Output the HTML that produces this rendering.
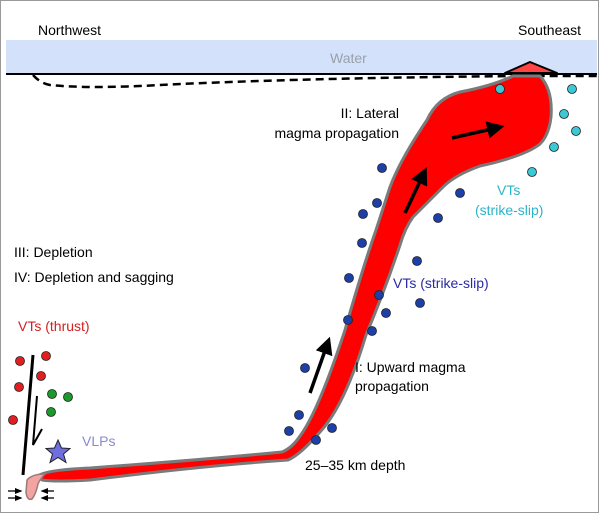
<!DOCTYPE html>
<html><head><meta charset="utf-8"><style>
html,body{margin:0;padding:0;background:#fff}
svg{display:block}
text{font-family:"Liberation Sans",sans-serif;font-size:14px}
</style></head><body>
<svg width="600" height="514" viewBox="0 0 600 514" xmlns="http://www.w3.org/2000/svg">
<defs>
<marker id="ah" viewBox="0 0 10 10" refX="5" refY="5" markerWidth="5" markerHeight="5" orient="auto"><path d="M0,0 L10,5 L0,10 z" fill="#000"/></marker>
<marker id="sa" viewBox="0 0 10 10" refX="8" refY="5" markerWidth="6" markerHeight="6" orient="auto"><path d="M0,1 L10,5 L0,9 z" fill="#000"/></marker>
</defs>
<rect x="0.5" y="0.5" width="598" height="512" fill="#fff" stroke="#999"/>
<rect x="6" y="40" width="591" height="33" fill="#d3e2fa"/>
<line x1="6" y1="74" x2="597" y2="74" stroke="#000" stroke-width="2"/>
<path d="M33,75 Q40,83 50,85 Q90,89 160,85 Q300,78 520,76 L597,76" fill="none" stroke="#000" stroke-width="2.5" stroke-dasharray="8,5"/>
<text x="38" y="35">Northwest</text>
<text x="518" y="35">Southeast</text>
<text x="330" y="63" fill="#9aa0aa">Water</text>
<!-- magma -->
<path d="M38,476 Q45,470 90,468 Q200,460 282,452 Q292,448 300,436 Q318,412 345,330 Q362,270 376,230 L390,187 Q400,160 427,120 Q437,98 460,92 Q492,86 513,76 L540,76 Q553,90 551,117 Q549,135 540,144 Q525,156 480,166 Q455,175 443,187 L413,217 Q405,228 400,245 Q385,290 366,335 Q345,405 320,432 Q300,455 288,460 Q200,466 90,480 Q55,482 42,480 Z" fill="#f00" stroke="#7a7a7a" stroke-width="3" stroke-linejoin="round"/>
<path d="M27,480 Q32,474 45,474 Q40,479 38,484 Q36,494 32,499 Q27,501 26,492 Z" fill="#f4a3a3" stroke="#9a7a7a" stroke-width="1.5"/>
<path d="M505,73 L530,62 L557,73 Z" fill="#f44" stroke="#000" stroke-width="2" stroke-linejoin="round"/>
<!-- arrows -->
<g stroke="#000" stroke-width="3.5" marker-end="url(#ah)">
<line x1="310" y1="393" x2="327" y2="345"/>
<line x1="405" y1="213" x2="423" y2="175"/>
<line x1="452" y1="138" x2="496" y2="128"/>
</g>
<!-- faults -->
<line x1="33" y1="355" x2="23" y2="475" stroke="#000" stroke-width="3"/>
<path d="M37,396 L33,445 L42,429" fill="none" stroke="#000" stroke-width="2"/>
<g stroke="#000" stroke-width="1.3" marker-end="url(#sa)">
<line x1="8" y1="491" x2="21" y2="491"/><line x1="8" y1="498" x2="21" y2="498"/>
<line x1="54" y1="491" x2="42" y2="491"/><line x1="54" y1="498" x2="42" y2="498"/>
</g>
<path d="M58,440 L61.5,448 L70,448.5 L63.5,454 L66,462.5 L58,457.5 L50,462.5 L52.5,454 L46,448.5 L54.5,448 Z" fill="#6e6ede" stroke="#222" stroke-width="1"/>
<!-- dots -->
<g stroke="#222" stroke-width="0.8">
<g fill="#1d3fa8">
<circle cx="362" cy="243" r="4.5"/><circle cx="417" cy="261" r="4.5"/><circle cx="349" cy="278" r="4.5"/><circle cx="379" cy="295" r="4.5"/><circle cx="420" cy="303" r="4.5"/><circle cx="386" cy="313" r="4.5"/><circle cx="348" cy="320" r="4.5"/><circle cx="372" cy="331" r="4.5"/><circle cx="305" cy="368" r="4.5"/><circle cx="299" cy="415" r="4.5"/><circle cx="289" cy="431" r="4.5"/><circle cx="332" cy="428" r="4.5"/><circle cx="316" cy="440" r="4.5"/><circle cx="382" cy="168" r="4.5"/><circle cx="377" cy="203" r="4.5"/><circle cx="363" cy="214" r="4.5"/><circle cx="460" cy="193" r="4.5"/><circle cx="438" cy="218" r="4.5"/>
</g>
<g fill="#3cc8d4">
<circle cx="500" cy="89" r="4.5"/><circle cx="572" cy="89" r="4.5"/><circle cx="564" cy="114" r="4.5"/><circle cx="576" cy="131" r="4.5"/><circle cx="554" cy="147" r="4.5"/><circle cx="532" cy="172" r="4.5"/>
</g>
<g fill="#e02020">
<circle cx="20" cy="361" r="4.5"/><circle cx="46" cy="356" r="4.5"/><circle cx="41" cy="376" r="4.5"/><circle cx="19" cy="387" r="4.5"/><circle cx="13" cy="420" r="4.5"/>
</g>
<g fill="#1a9a2a">
<circle cx="52" cy="394" r="4.5"/><circle cx="68" cy="397" r="4.5"/><circle cx="51" cy="412" r="4.5"/>
</g>
</g>
<!-- labels -->
<text x="399" y="118" text-anchor="end">II: Lateral</text>
<text x="399" y="138" text-anchor="end">magma propagation</text>
<text x="497" y="195" fill="#2ab5c8">VTs</text>
<text x="475" y="215" fill="#2ab5c8">(strike-slip)</text>
<text x="393" y="288" fill="#2a2aa0">VTs (strike-slip)</text>
<text x="355" y="372">I: Upward magma</text>
<text x="355" y="391">propagation</text>
<text x="305" y="470">25–35 km depth</text>
<text x="14" y="257">III: Depletion</text>
<text x="14" y="282">IV: Depletion and sagging</text>
<text x="18" y="331" fill="#d42020">VTs (thrust)</text>
<text x="82" y="446" fill="#8a8ad0">VLPs</text>
</svg>
</body></html>
